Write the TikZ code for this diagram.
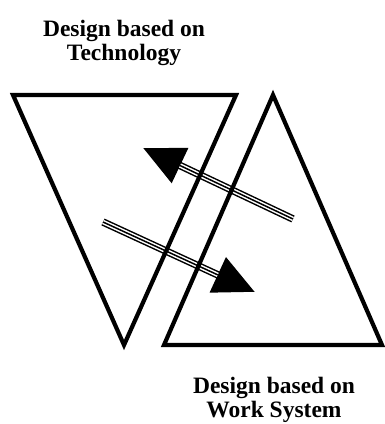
\documentclass[tikz,border=0pt]{standalone}
\usepackage{fontspec}
\setmainfont{Liberation Serif}
\usepackage{tikz}
\usetikzlibrary{arrows.meta, calc}

\tikzset{
  frame/.style={draw=black, line width=4.2pt, line join=miter},
  flow/.style={draw=black, line width=7.5pt, -{Triangle[length=41pt, width=37pt]},
    postaction={draw=white, line width=4.5pt, -, shorten >=41pt},
    postaction={draw=black, line width=1.5pt, -, shorten >=41pt}},
  caption/.style={align=center, inner sep=0pt, font=\bfseries\fontsize{23.5}{24}\selectfont}
}

\begin{document}
\begin{tikzpicture}[x=1pt, y=-1pt]
  \useasboundingbox (0,0) rectangle (384,424);

  \coordinate (techTL) at (13,95);
  \coordinate (techTR) at (236,95);
  \coordinate (techB) at (124,345);
  \coordinate (workT) at (273,95);
  \coordinate (workBL) at (164,345);
  \coordinate (workBR) at (382,345);

  \coordinate (backTail) at (293,219);
  \coordinate (backTip) at (143,148);
  \coordinate (fwdTail) at (103,222);
  \coordinate (fwdTip) at (255,292);

  \draw[flow] (backTail) -- (backTip);
  \draw[flow] (fwdTail) -- (fwdTip);

  \draw[frame] (techTL) -- (techTR) -- (techB) -- cycle;
  \draw[frame] (workT) -- (workBR) -- (workBL) -- cycle;

  \node[caption, anchor=center] (techLabel) at (124,43) {Design based on\\Technology};
  \node[caption, anchor=center] (workLabel) at (274,400) {Design based on\\Work System};
\end{tikzpicture}
\end{document}
